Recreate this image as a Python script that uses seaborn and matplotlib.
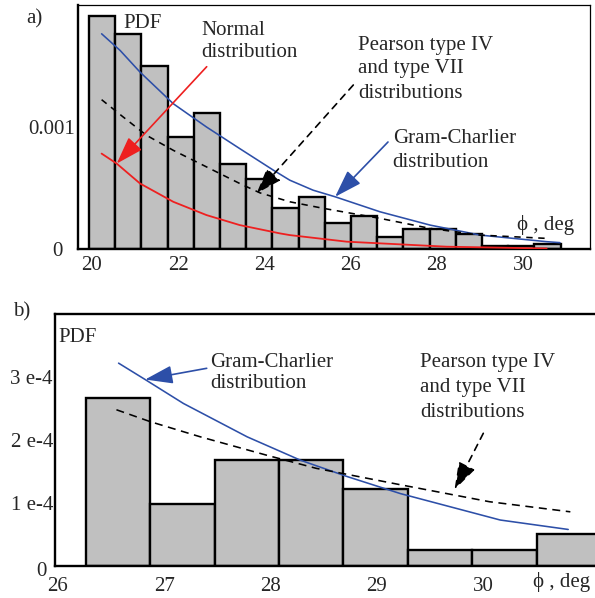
import numpy as np
import pandas as pd
import matplotlib
matplotlib.use("Agg")
import matplotlib.pyplot as plt
import matplotlib.transforms as mtransforms
import seaborn as sns

# ------------------------------------------------------------------ data
# panel a) histogram (PDF per bin)
a_bin_start = 19.94
a_bin_width = 0.607
a_pdf = [1.913e-3, 1.764e-3, 1.504e-3, 0.918e-3, 1.118e-3, 0.693e-3,
         0.570e-3, 0.333e-3, 0.428e-3, 0.215e-3, 0.270e-3, 0.096e-3,
         0.166e-3, 0.166e-3, 0.120e-3, 0.021e-3, 0.021e-3, 0.045e-3]

# panel a) fitted curves
a_gc_x = [20.23, 20.66, 21.12, 21.89, 22.66, 23.43, 24.21, 24.59, 25.13,
          25.64, 26.68, 27.84, 29.0, 30.54, 30.85]
a_gc_y = [1.764e-3, 1.627e-3, 1.450e-3, 1.191e-3, 1.000e-3, 0.823e-3,
          0.646e-3, 0.564e-3, 0.482e-3, 0.428e-3, 0.305e-3, 0.196e-3,
          0.114e-3, 0.060e-3, 0.052e-3]
a_pe_x = [20.23, 20.73, 21.27, 21.89, 22.66, 23.43, 23.90, 24.59, 25.37,
          26.68, 27.84, 29.0, 30.54]
a_pe_y = [1.224e-3, 1.082e-3, 0.932e-3, 0.809e-3, 0.673e-3, 0.537e-3,
          0.460e-3, 0.387e-3, 0.333e-3, 0.251e-3, 0.169e-3, 0.114e-3,
          0.087e-3]
a_no_x = [20.23, 20.58, 21.12, 21.89, 22.66, 23.43, 24.36, 24.59, 25.91,
          28.22, 30.54]
a_no_y = [0.782e-3, 0.700e-3, 0.537e-3, 0.387e-3, 0.278e-3, 0.196e-3,
          0.128e-3, 0.114e-3, 0.060e-3, 0.019e-3, 0.004e-3]

# panel b) histogram
b_bin_start = 26.263
b_bin_width = 0.6057
b_pdf = [2.66e-4, 0.98e-4, 1.69e-4, 1.69e-4, 1.22e-4, 0.25e-4, 0.25e-4, 0.51e-4]

# panel b) fitted curves
b_gc_x = [26.57, 26.82, 27.18, 27.78, 28.28, 28.72, 29.22, 30.16, 30.80]
b_gc_y = [3.22e-4, 2.96e-4, 2.58e-4, 2.05e-4, 1.68e-4, 1.42e-4, 1.15e-4,
          0.73e-4, 0.58e-4]
b_pe_x = [26.55, 26.87, 27.34, 27.96, 28.43, 29.22, 30.06, 30.82]
b_pe_y = [2.48e-4, 2.29e-4, 2.05e-4, 1.76e-4, 1.55e-4, 1.29e-4, 1.02e-4,
          0.86e-4]

a_xticks = [20, 22, 24, 26, 28, 30]
a_yticks = [0, 0.001, 0.002]
a_yticklabels = ["0", "0.001", ""]
b_xticks = [26, 27, 28, 29, 30]
b_yticks = [0, 1e-4, 2e-4, 3e-4]
b_yticklabels = ["0", "1 e-4", "2 e-4", "3 e-4"]

# ------------------------------------------------------------------ style
sns.set_style("white")
plt.rcParams["font.family"] = ["Liberation Serif", "DejaVu Serif"]
plt.rcParams["font.size"] = 15

W, H = 595, 598
fig = plt.figure(figsize=(W / 100, H / 100), dpi=100)

def fpos(px, py):
    return px / W, 1 - py / H

GRAY = "#c0c0c0"
BLUE = "#2d4fa8"
RED = "#ee2020"

def hist(ax, start, width, vals):
    n = len(vals)
    edges = [float(start + width * i) for i in range(n + 1)]
    centers = [(edges[i] + edges[i + 1]) / 2 for i in range(n)]
    df = pd.DataFrame({"phi": centers, "pdf": vals})
    sns.histplot(data=df, x="phi", weights="pdf", bins=edges, ax=ax,
                 color=GRAY, edgecolor="black", linewidth=1.7, alpha=1,
                 stat="count", zorder=1)

def curve(ax, xs, ys, color, ls="-", lw=1.15):
    df = pd.DataFrame({"x": xs, "y": ys})
    sns.lineplot(data=df, x="x", y="y", ax=ax, color=color, linewidth=lw,
                 linestyle=ls, sort=False, estimator=None, zorder=3)

def label(txt, px, py, **kw):
    x, y = fpos(px, py)
    fig.text(x, y, txt, ha="left", va="baseline", **kw)

def arrow(ax, xy, tail_px, color, ls="-", hl=0.85, hw=0.28):
    ax.annotate("", xy=xy, xycoords="data", xytext=fpos(*tail_px),
                textcoords="figure fraction",
                arrowprops=dict(arrowstyle=f"-|>,head_length={hl},head_width={hw}",
                                color=color, lw=1.2, linestyle=ls,
                                mutation_scale=20, shrinkA=0, shrinkB=0),
                zorder=5)

# ------------------------------------------------------------------ panel a
ax = fig.add_axes([78 / W, 1 - 249 / H, (590 - 78) / W, (249 - 5) / H])
hist(ax, a_bin_start, a_bin_width, a_pdf)
curve(ax, a_gc_x, a_gc_y, BLUE)
curve(ax, a_pe_x, a_pe_y, "black", ls=(0, (4, 3.5)))
curve(ax, a_no_x, a_no_y, RED, lw=1.3)
ax.set_xlim(19.683, 31.545)
ax.set_ylim(0, 0.002)
ax.set_xticks(a_xticks)
ax.set_xticklabels([str(t) for t in a_xticks])
ax.set_yticks(a_yticks)
ax.set_yticklabels(a_yticklabels)
ax.tick_params(axis="y", direction="in", length=8, width=1.5, pad=2)
ax.tick_params(axis="x", length=0, pad=5)
ax.set_xlabel("")
ax.set_ylabel("")
for s in ["left", "bottom"]:
    ax.spines[s].set_linewidth(1.7)
for s in ["top", "right"]:
    ax.spines[s].set_linewidth(0.9)
for sp in ax.spines.values():
    sp.set_color("black")
t0 = ax.yaxis.get_major_ticks()[0].label1
t0.set_transform(t0.get_transform() +
                 mtransforms.ScaledTranslation(-13 / 100, 0, fig.dpi_scale_trans))

arrow(ax, (20.58, 0.70e-3), (206.7, 66.7), RED)
arrow(ax, (23.82, 0.455e-3), (353.3, 85), "black", ls=(0, (4, 3.5)), hl=0.8, hw=0.28)
arrow(ax, (25.64, 0.428e-3), (388, 142), BLUE)

label("a)", 26.7, 23.5)
label("PDF", 123.3, 28)
label("Normal", 201.7, 35)
label("distribution", 201.7, 56.7)
label("Pearson type IV", 358.3, 50)
label("and type VII", 358.3, 73.3)
label("distributions", 358.3, 98.3)
label("Gram-Charlier", 392.7, 143.3)
label("distribution", 392.7, 166.7)
label("\u03d5 , deg", 516.7, 230)

# ------------------------------------------------------------------ panel b
bx = fig.add_axes([55 / W, 1 - 566 / H, (595 - 55) / W, (566 - 314) / H])
hist(bx, b_bin_start, b_bin_width, b_pdf)
curve(bx, b_gc_x, b_gc_y, BLUE)
curve(bx, b_pe_x, b_pe_y, "black", ls=(0, (5, 3.5)))
bx.set_xlim(25.972, 31.052)
bx.set_ylim(0, 4e-4)
bx.set_xticks(b_xticks)
bx.set_xticklabels([str(t) for t in b_xticks])
bx.set_yticks(b_yticks)
bx.set_yticklabels(b_yticklabels)
bx.tick_params(axis="y", direction="in", length=9.5, width=1.5, pad=1.5)
bx.tick_params(axis="x", length=0, pad=8)
bx.set_xlabel("")
bx.set_ylabel("")
bx.spines["right"].set_visible(False)
for s in ["left", "bottom", "top"]:
    bx.spines[s].set_linewidth(1.7)
    bx.spines[s].set_color("black")
t0 = bx.yaxis.get_major_ticks()[0].label1
t0.set_transform(t0.get_transform() +
                 mtransforms.ScaledTranslation(-6 / 100, -3 / 100, fig.dpi_scale_trans))

arrow(bx, (26.82, 2.96e-4), (206.7, 368.3), BLUE)
arrow(bx, (29.73, 1.21e-4), (483.3, 433.3), "black", ls=(0, (4, 3.5)), hl=0.85, hw=0.28)

label("b)", 13.3, 316)
label("PDF", 58.3, 341.7)
label("Gram-Charlier", 210, 366.7)
label("distribution", 210, 388.3)
label("Pearson type IV", 420, 366.7)
label("and type VII", 420, 391.7)
label("distributions", 420, 416.7)
label("\u03d5 , deg", 533.3, 587)

fig.savefig("out.png", dpi=100)
